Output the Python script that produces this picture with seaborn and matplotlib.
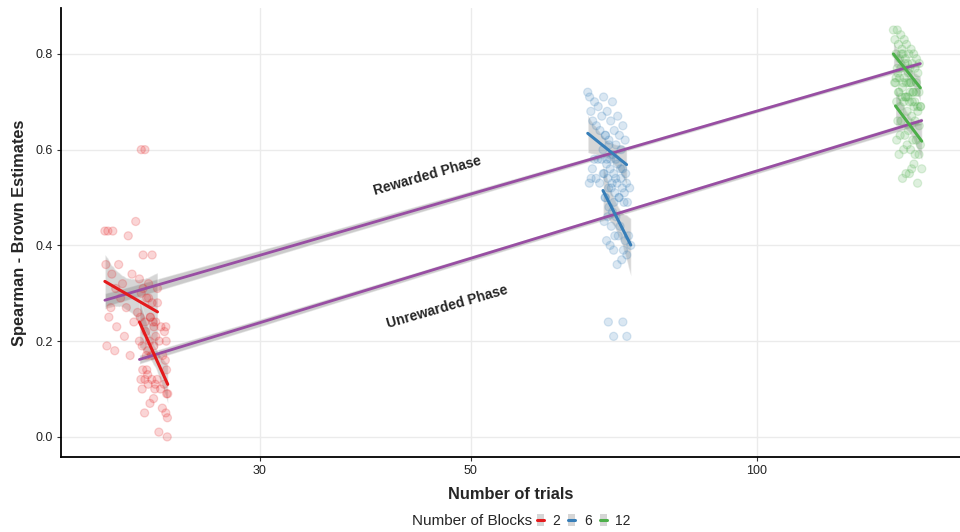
import numpy as np
import pandas as pd
import matplotlib
matplotlib.use("Agg")
import matplotlib.pyplot as plt
import matplotlib.ticker as mtick
from matplotlib.lines import Line2D
from matplotlib.patches import Patch
import seaborn as sns

# valores: numero de ensayos (con jitter) y estimacion Spearman-Brown
red_rew_x = [20.6, 20.7, 20.65, 20.8, 20.75, 20.9, 20.95, 21.0, 21.1, 21.15, 21.2, 21.3, 21.4, 21.5, 21.6, 21.7,
             21.8, 21.9, 22.0, 22.1, 22.2, 22.3, 22.4, 22.5, 22.6, 22.7, 22.7, 22.8, 22.9, 23.0, 23.1, 23.2,
             23.3, 23.4, 22.55, 22.85]
red_rew_y = [0.43, 0.19, 0.36, 0.25, 0.43, 0.27, 0.34, 0.43, 0.18, 0.31, 0.23, 0.36, 0.29, 0.32, 0.21, 0.27,
             0.42, 0.17, 0.34, 0.24, 0.45, 0.26, 0.20, 0.60, 0.31, 0.12, 0.60, 0.14, 0.29, 0.25, 0.38, 0.19,
             0.24, 0.28, 0.10, 0.13]
red_unr_x = [22.4, 22.48, 22.5, 22.58, 22.45, 22.55, 22.6, 22.68, 22.7, 22.78, 22.8, 22.88, 22.75, 22.85, 22.9, 22.98,
             23.0, 23.08, 22.95, 23.05, 23.1, 23.18, 23.2, 23.28, 23.15, 23.25, 23.3, 23.38, 23.4, 23.48, 23.5, 23.58,
             23.6, 23.68, 23.7, 23.78, 23.8, 23.88, 23.85, 23.93, 23.9, 23.97, 23.92, 23.99, 23.88, 23.96]
red_unr_y = [0.33, 0.12, 0.30, 0.14, 0.25, 0.19, 0.38, 0.05, 0.24, 0.17, 0.29, 0.11, 0.22, 0.18, 0.32, 0.07,
             0.25, 0.12, 0.20, 0.17, 0.28, 0.08, 0.23, 0.11, 0.24, 0.10, 0.21, 0.12, 0.31, 0.01, 0.20, 0.10,
             0.23, 0.06, 0.17, 0.11, 0.22, 0.05, 0.16, 0.09, 0.20, 0.04, 0.14, 0.09, 0.23, 0.00]

blue_rew_x = [66.4, 66.65, 66.7, 66.95, 66.9, 67.15, 67.2, 67.45, 67.5, 67.75, 67.8, 68.05, 68.1, 68.35, 68.4, 68.65,
              68.7, 68.95, 69.0, 69.25, 69.3, 69.55, 69.6, 69.85, 69.9, 70.15, 70.2, 70.45, 70.5, 70.75, 70.8, 71.05,
              71.1, 71.35, 71.4, 71.65, 71.7, 71.95, 72.0, 72.25, 72.3, 72.55, 72.7, 72.95]
blue_rew_y = [0.72, 0.53, 0.71, 0.54, 0.68, 0.56, 0.66, 0.58, 0.70, 0.54, 0.65, 0.58, 0.69, 0.53, 0.64, 0.58,
              0.67, 0.55, 0.71, 0.50, 0.63, 0.58, 0.68, 0.52, 0.62, 0.58, 0.66, 0.53, 0.70, 0.49, 0.64, 0.54,
              0.61, 0.57, 0.67, 0.50, 0.63, 0.54, 0.60, 0.56, 0.65, 0.51, 0.62, 0.53]
blue_unr_x = [68.9, 69.1, 69.1, 69.3, 69.3, 69.5, 69.5, 69.7, 69.7, 69.9, 69.9, 70.1, 70.1, 70.3, 70.3, 70.5,
              70.5, 70.7, 70.7, 70.9, 70.9, 71.1, 71.1, 71.3, 71.3, 71.5, 71.6, 71.8, 71.9, 72.1, 72.2, 72.4,
              72.5, 72.7, 72.8, 73.0, 73.1, 73.3, 73.5, 73.7, 69.8, 70.7, 72.3, 73.0]
blue_unr_y = [0.60, 0.45, 0.55, 0.50, 0.63, 0.41, 0.57, 0.46, 0.54, 0.48, 0.61, 0.40, 0.56, 0.44, 0.52, 0.47,
              0.59, 0.39, 0.55, 0.42, 0.51, 0.46, 0.58, 0.36, 0.53, 0.42, 0.50, 0.44, 0.56, 0.37, 0.52, 0.39,
              0.49, 0.41, 0.55, 0.38, 0.49, 0.42, 0.52, 0.40, 0.24, 0.21, 0.24, 0.21]

green_rew_x = [139.3, 139.7, 139.8, 140.2, 140.2, 140.6, 140.6, 141.0, 141.0, 141.4, 141.4, 141.8, 141.8, 142.2,
               142.2, 142.6, 142.6, 143.0, 143.0, 143.4, 143.4, 143.8, 143.8, 144.2, 144.2, 144.6, 144.6, 145.0,
               145.0, 145.4, 145.4, 145.8, 145.8, 146.2, 146.3, 146.7, 146.8, 147.2, 147.3, 147.7, 147.8, 148.2,
               148.3, 148.7]
green_rew_y = [0.85, 0.74, 0.83, 0.75, 0.80, 0.77, 0.85, 0.72, 0.82, 0.75, 0.79, 0.77, 0.84, 0.71,
               0.81, 0.74, 0.80, 0.75, 0.83, 0.71, 0.79, 0.74, 0.82, 0.71, 0.78, 0.74, 0.80, 0.72,
               0.77, 0.74, 0.81, 0.70, 0.78, 0.72, 0.80, 0.70, 0.77, 0.72, 0.79, 0.69, 0.76, 0.72,
               0.78, 0.69]
green_unr_x = [140.0, 140.4, 140.4, 140.8, 140.8, 141.2, 141.2, 141.6, 141.6, 142.0, 142.0, 142.4, 142.4, 142.8,
               142.8, 143.2, 143.2, 143.6, 143.6, 144.0, 144.0, 144.4, 144.4, 144.8, 144.8, 145.2, 145.2, 145.6,
               145.6, 146.0, 146.0, 146.4, 146.4, 146.8, 146.8, 147.2, 147.3, 147.7, 147.8, 148.2, 148.3, 148.7,
               148.8, 149.2]
green_unr_y = [0.74, 0.62, 0.70, 0.66, 0.76, 0.59, 0.72, 0.63, 0.69, 0.66, 0.80, 0.54, 0.73, 0.60,
               0.70, 0.63, 0.78, 0.55, 0.71, 0.61, 0.68, 0.64, 0.76, 0.55, 0.70, 0.60, 0.74, 0.56,
               0.67, 0.62, 0.72, 0.57, 0.69, 0.59, 0.66, 0.62, 0.74, 0.53, 0.68, 0.59, 0.65, 0.61,
               0.69, 0.56]

blocks = [2, 6, 12]
phases = ["Rewarded", "Unrewarded"]
colores = {2: "#E41A1C", 6: "#377EB8", 12: "#4DAF4A"}
morado = "#984EA3"

# armar tabla larga
grupos = [
    (2, "Rewarded", red_rew_x, red_rew_y), (2, "Unrewarded", red_unr_x, red_unr_y),
    (6, "Rewarded", blue_rew_x, blue_rew_y), (6, "Unrewarded", blue_unr_x, blue_unr_y),
    (12, "Rewarded", green_rew_x, green_rew_y), (12, "Unrewarded", green_unr_x, green_unr_y),
]
filas = []
for b, ph, xs, ys in grupos:
    for x, y in zip(xs, ys):
        filas.append({"blocks": b, "phase": ph, "trials": x, "estimate": y})
df = pd.DataFrame(filas)

sns.set_theme(style="whitegrid")
plt.rcParams["font.family"] = ["Liberation Sans", "DejaVu Sans"]

fig = plt.figure(figsize=(9.6, 5.32), dpi=100)
ax = fig.add_axes([0.0635, 0.141, 0.936, 0.844])


def banda_gris(ax, alpha=0.35):
    # la banda de confianza en gris como en ggplot
    banda = ax.collections[-1]
    banda.set_facecolor("0.55")
    banda.set_alpha(alpha)


sns.scatterplot(data=df, x="trials", y="estimate", hue="blocks", palette=colores,
                alpha=0.18, s=34, linewidth=0.9, edgecolor="face", legend=False, ax=ax, zorder=2)

for ph in phases:
    sub = df[df["phase"] == ph]
    sns.regplot(data=sub, x="trials", y="estimate", logx=True, scatter=False, color=morado, ci=50,
                seed=3, n_boot=400, line_kws={"lw": 2.0, "zorder": 4}, ax=ax)
    banda_gris(ax, 0.45)

for ph in phases:
    for b in blocks:
        sub = df[(df["phase"] == ph) & (df["blocks"] == b)]
        sns.regplot(data=sub, x="trials", y="estimate", logx=True, scatter=False, color=colores[b],
                    seed=3, n_boot=400, line_kws={"lw": 2.2, "zorder": 5}, ax=ax)
        banda_gris(ax)

ax.set_xscale("log")
ax.xaxis.set_major_locator(mtick.FixedLocator([30, 50, 100]))
ax.xaxis.set_major_formatter(mtick.FuncFormatter(lambda v, _: f"{v:g}"))
ax.xaxis.set_minor_locator(mtick.NullLocator())
ax.set_yticks([0.0, 0.2, 0.4, 0.6, 0.8])
ax.yaxis.set_major_formatter(mtick.FormatStrFormatter("%.1f"))
ax.set_xlim(18.52, 163.5)
ax.set_ylim(-0.042, 0.896)

ax.grid(True, color="#ebebeb", lw=1.0)
for lado in ["top", "right"]:
    ax.spines[lado].set_visible(False)
for lado in ["left", "bottom"]:
    ax.spines[lado].set_color("black")
    ax.spines[lado].set_linewidth(1.3)
ax.tick_params(axis="both", length=3, width=0.8, color="#333333", labelsize=9, labelcolor="#222222",
               bottom=True, left=True, pad=3)

ax.set_xlabel("Number of trials", fontsize=11.8, fontweight="bold", labelpad=7)
ax.set_ylabel("Spearman - Brown Estimates", fontsize=11.8, fontweight="bold", labelpad=6)

ax.text(45.0, 0.545, "Rewarded Phase", rotation=16, fontsize=10, fontweight="bold",
        ha="center", va="center")
ax.text(47.2, 0.272, "Unrewarded Phase", rotation=16, fontsize=10, fontweight="bold",
        ha="center", va="center")

# leyenda inferior
handles = [(Patch(facecolor="0.55", alpha=0.35, edgecolor="none"), Line2D([], [], color=colores[b], lw=2.2))
           for b in blocks]
fig.text(532 / 960, 1 - 521 / 532, "Number of Blocks", ha="right", va="center", fontsize=11)
fig.legend(handles, [str(b) for b in blocks], loc="center left", bbox_to_anchor=(537 / 960, 1 - 521 / 532),
           ncol=3, frameon=False, handlelength=0.5, handleheight=1.0, handletextpad=0.6,
           columnspacing=0.6, fontsize=10, borderaxespad=0, borderpad=0)

fig.savefig("out.png", dpi=100)
